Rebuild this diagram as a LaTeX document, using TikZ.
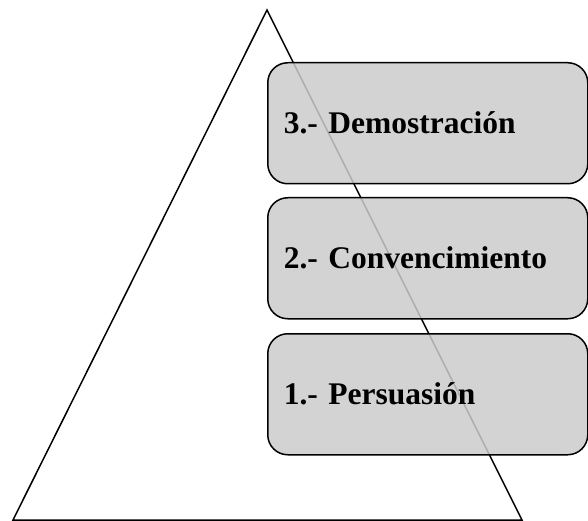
\documentclass[tikz,border=0pt]{standalone}
\usepackage{fontspec}
\setmainfont{Liberation Serif}
\definecolor{levelfill}{RGB}{203,203,203}
\begin{document}
\begin{tikzpicture}[x=1pt, y=-1pt,
  outline/.style={draw=black, line width=1.5pt, line join=miter},
  level/.style={draw=black, line width=1.5pt, rounded corners=20pt,
    fill=levelfill, fill opacity=0.85, text opacity=1,
    minimum width=320pt, minimum height=121pt,
    inner xsep=16pt, inner ysep=0pt, text width=288pt, align=left,
    text height=21pt, text depth=0pt,
    anchor=north west,
    font=\bfseries\fontsize{31.5}{36}\selectfont}]
  \useasboundingbox (0,0) rectangle (588,521);
  % pyramid
  \coordinate (apex) at (267,10);
  \coordinate (bl) at (13,520);
  \coordinate (br) at (522,520);
  \draw[outline] (apex) -- (bl) -- (br) -- cycle;
  % stacked levels
  \node[level] (lvl3) at (267,62) {3.- Demostración};
  \node[level] (lvl2) at (267,197) {2.- Convencimiento};
  \node[level] (lvl1) at (267,333) {1.- Persuasión};
\end{tikzpicture}
\end{document}
